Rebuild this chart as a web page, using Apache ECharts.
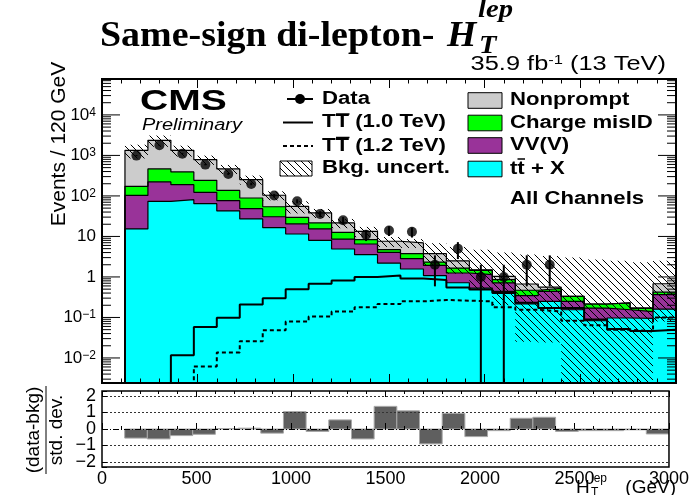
<!DOCTYPE html>
<html>
<head>
<meta charset="utf-8">
<script src="https://cdn.jsdelivr.net/npm/echarts@6/dist/echarts.min.js"></script>
<style>
  html, body { margin: 0; padding: 0; background: #fff; }
  #chart { width: 692px; height: 495px; }
</style>
</head>
<body>
<div id="chart"></div>
<script>
// ---- Binning: 24 bins of 120 GeV from 120 to 3000 GeV ----
const BIN_WIDTH = 120;
const BIN_LOW = [120, 240, 360, 480, 600, 720, 840, 960, 1080, 1200, 1320, 1440,
                 1560, 1680, 1800, 1920, 2040, 2160, 2280, 2400, 2520, 2640, 2760, 2880];

// ---- Background components (events per bin) ----
const ttX         = [15.3, 73.6, 81, 64.5, 42.6, 27, 16.5, 11.5, 8.0, 4.9, 3.55, 2.2,
                     1.57, 1.08, 0.72, 0.53, 0.44, 0.215, 0.25, 0.155, 0.083, 0.097, 0.095, 0.16];
const vvV         = [87.7, 148, 109, 58.5, 33.9, 21.5, 14.1, 8.9, 7.3, 3.7, 2.95, 1.85,
                     1.26, 0.85, 0.53, 0.61, 0.27, 0.13, 0.19, 0.095, 0.087, 0.058, 0.045, 0.205];
const chargeMisID = [70, 242, 202, 120, 60.5, 40.5, 23.4, 9.2, 6.2, 4.0, 1.8, 0.65,
                     0.93, 0.4, 0.41, 0.32, 0.15, 0.125, 0.08, 0.08, 0.045, 0.075, 0.03, 0.055];
const nonprompt   = [1163, 1896, 944, 544, 327, 164, 50, 25.4, 16.5, 8.9, 5.1, 2.9,
                     3.14, 1.43, 0.84, 0.04, 0.17, 0.2, 0.04, 0, 0, 0, 0, 0.26];

// ---- Total background uncertainty band (lower / upper edge) ----
const bkgUncUp   = [1836, 3090, 1740, 990, 582, 317, 130, 73.6, 47.7, 27, 17.2, 9.7,
                    8.6, 6.8, 5.5, 4.7, 4.0, 3.6, 3.3, 3.0, 2.7, 2.5, 2.3, 2.5];
const bkgUncDown = [842, 1630, 935, 584, 348, 190, 78, 37, 28.5, 16, 9.6, 5.5,
                    5.2, 1.9, 1.2, 0.5, 0.2, 0.025, 0.024, 0, 0, 0, 0, 0.08];

// ---- Observed events ----
const dataCounts = [989, 1778, 1107, 593, 349, 198, 102, 74, 36, 25, 11, 14,
                    13, 2, 5, 1, 1, 2, 2, 0, 0, 0, 0, 0];

// ---- Signal: vector-like T Tbar pair production ----
const tt1000 = [0, 0, 0.0116, 0.058, 0.099, 0.21, 0.30, 0.50, 0.68, 0.82, 1.0, 1.08,
                0.91, 0.84, 0.55, 0.49, 0.40, 0.23, 0.17, 0.17, 0.089, 0.052, 0.046, 0.05];
const tt1200 = [0, 0, 0, 0.0062, 0.0137, 0.0257, 0.048, 0.079, 0.105, 0.14, 0.178, 0.215,
                0.25, 0.27, 0.26, 0.25, 0.178, 0.155, 0.14, 0.083, 0.064, 0.05, 0.045, 0.1];

// ---- (data - bkg) / std. dev. per bin ----
const pull = [-0.55, -0.6, -0.4, -0.32, 0.03, 0.05, -0.25, 1.05, -0.15, 0.55, -0.6, 1.37,
              1.1, -0.9, 0.95, -0.46, -0.1, 0.65, 0.71, -0.15, -0.1, -0.1, -0.05, -0.3];

// ---- Axis ticks ----
const X_TICKS = [0, 500, 1000, 1500, 2000, 2500, 3000];
const Y_DECADES = [-2, -1, 0, 1, 2, 3, 4];
const PULL_TICKS = [-2, -1, 0, 1, 2];

// ---- Styling ----
const FLOOR = 1e-5;            // stand-in for empty bins on the log axis
const Y_MIN = 0.00241, Y_MAX = 77000;
const X_MIN = 0, X_MAX = 3000;
const SANS = '"Liberation Sans", Arial, sans-serif';
const SERIF = '"Liberation Serif", "Times New Roman", serif';
const COL = {
  nonprompt: '#cccccc',
  misid: '#00ff00',
  vv: '#993399',
  ttx: '#00ffff',
  pullFill: '#5f5f5f',
  pullLine: '#a8a8a8'
};

function makeHatch() {
  const s = 7;
  const c = document.createElement('canvas');
  c.width = s; c.height = s;
  const g = c.getContext('2d');
  g.strokeStyle = '#000';
  g.lineWidth = 1;
  g.beginPath();
  g.moveTo(-1, -1); g.lineTo(s + 1, s + 1);
  g.moveTo(-1, s - 1); g.lineTo(1, s + 1);
  g.moveTo(s - 1, -1); g.lineTo(s + 1, 1);
  g.stroke();
  return { image: c, repeat: 'repeat' };
}
const HATCH = makeHatch();

// cumulative stack levels (drawn from the top level down)
const cum = (arrs) => BIN_LOW.map((_, i) => arrs.reduce((s, a) => s + a[i], 0));
const levelTt = cum([ttX]);
const levelVV = cum([ttX, vvV]);
const levelMis = cum([ttX, vvV, chargeMisID]);
const levelTot = cum([ttX, vvV, chargeMisID, nonprompt]);

// histogram outline as step points (step: 'end')
function stepPoints(vals) {
  const last = BIN_LOW[BIN_LOW.length - 1] + BIN_WIDTH;
  const pts = [[BIN_LOW[0], FLOOR]];
  vals.forEach((v, i) => pts.push([BIN_LOW[i], v > 0 ? v : FLOOR]));
  const lv = vals[vals.length - 1];
  pts.push([last, lv > 0 ? lv : FLOOR]);
  pts.push([last, FLOOR]);
  return pts;
}

function stackSeries(name, vals, color, z) {
  return {
    name, type: 'line', xAxisIndex: 0, yAxisIndex: 0,
    data: stepPoints(vals), step: 'end', showSymbol: false, symbol: 'none',
    clip: true, silent: true, z,
    lineStyle: { color: '#000', width: 1.2 },
    areaStyle: { color, opacity: 1, origin: 'start' }
  };
}

function signalSeries(name, vals, dash) {
  return {
    name, type: 'line', xAxisIndex: 0, yAxisIndex: 0,
    data: stepPoints(vals), step: 'end', showSymbol: false, symbol: 'none',
    clip: true, silent: true, z: 4,
    lineStyle: { color: '#000', width: 2, type: dash ? [4, 3] : 'solid' }
  };
}

const supFmt = (e) => {
  if (e === 0) return '1';
  if (e === 1) return '10';
  return '10{sup|' + (e < 0 ? '\u2212' + (-e) : e) + '}';
};

const chart = echarts.init(document.getElementById('chart'), null, { renderer: 'canvas' });

const txt = (x, y, text, font, opts = {}) => ({
  type: 'text', x, y, scaleX: opts.scaleX || 1, rotation: opts.rotation || 0, z: 20,
  style: Object.assign({
    text, font, fill: '#000',
    textAlign: opts.align || 'left', textVerticalAlign: opts.valign || 'middle'
  }, opts.style || {})
});
const hline = (x1, y1, x2, y2, w, dash) => ({
  type: 'line', z: 20,
  shape: { x1, y1, x2, y2 },
  style: { stroke: '#000', lineWidth: w || 1, lineDash: dash || null }
});
const box = (x, y, w, h, fill) => ({
  type: 'rect', z: 20, shape: { x, y, width: w, height: h },
  style: { fill, stroke: '#000', lineWidth: 1 }
});

const legendFont = 'bold 18px ' + SANS;
const LS = 1.23;

const option = {
  animation: false,
  backgroundColor: '#fff',
  grid: [
    { left: 102, right: 16, top: 79, height: 304 },
    { left: 102, right: 16, top: 391, height: 76 }
  ],
  xAxis: [
    { gridIndex: 0, type: 'value', min: X_MIN, max: X_MAX, interval: 500, z: 10,
      axisLine: { show: false }, axisLabel: { show: false }, splitLine: { show: false },
      axisTick: { inside: true, length: 9, lineStyle: { color: '#000' } },
      minorTick: { show: true, splitNumber: 5, length: 4.5, lineStyle: { color: '#000' } } },
    { gridIndex: 0, type: 'value', position: 'top', min: X_MIN, max: X_MAX, interval: 500, z: 10,
      axisLine: { show: false }, axisLabel: { show: false }, splitLine: { show: false },
      axisTick: { inside: true, length: 9, lineStyle: { color: '#000' } },
      minorTick: { show: true, splitNumber: 5, length: 4.5, lineStyle: { color: '#000' } } },
    { gridIndex: 1, type: 'value', min: X_MIN, max: X_MAX, interval: 500, z: 10,
      axisLine: { show: false }, splitLine: { show: false },
      axisTick: { inside: true, length: 6, lineStyle: { color: '#000' } },
      minorTick: { show: true, splitNumber: 5, length: 3, lineStyle: { color: '#000' } },
      axisLabel: { margin: 3, fontSize: 18, fontFamily: SANS, color: '#000',
        formatter: (v) => X_TICKS.includes(v) ? String(v) : '' } },
    { gridIndex: 1, type: 'value', position: 'top', min: X_MIN, max: X_MAX, interval: 500, z: 10,
      axisLine: { show: false }, axisLabel: { show: false }, splitLine: { show: false },
      axisTick: { inside: true, length: 6, lineStyle: { color: '#000' } },
      minorTick: { show: true, splitNumber: 5, length: 3, lineStyle: { color: '#000' } } }
  ],
  yAxis: [
    { gridIndex: 0, type: 'log', logBase: 10, min: Y_MIN, max: Y_MAX, z: 10,
      axisLine: { show: false }, axisTick: { show: false }, splitLine: { show: false },
      axisLabel: {
        margin: 6, fontSize: 17, fontFamily: SANS, color: '#000',
        formatter: (v) => {
          const l = Math.log10(v), e = Math.round(l);
          if (Math.abs(l - e) > 1e-6 || !Y_DECADES.includes(e)) return '';
          return supFmt(e);
        },
        rich: { sup: { fontSize: 12, fontFamily: SANS, color: '#000', verticalAlign: 'top', padding: [0, 0, 4, 0] } }
      } },
    { gridIndex: 1, type: 'value', min: -2.3, max: 2.3, splitNumber: 4, z: 10,
      axisLine: { show: false }, splitLine: { show: false },
      axisTick: { inside: true, length: 5, lineStyle: { color: '#000' } },
      axisLabel: { margin: 6, fontSize: 18, fontFamily: SANS, color: '#000',
        formatter: (v) => PULL_TICKS.includes(v) ? (v < 0 ? '\u2212' + (-v) : String(v)) : '' } }
  ],
  series: [
    stackSeries('Nonprompt', levelTot, COL.nonprompt, 2),
    stackSeries('Charge misID', levelMis, COL.misid, 2),
    stackSeries('VV(V)', levelVV, COL.vv, 2),
    stackSeries('ttX', levelTt, COL.ttx, 2),
    {
      name: 'Bkg. uncert.', type: 'custom', xAxisIndex: 0, yAxisIndex: 0, clip: true, silent: true, z: 3,
      data: BIN_LOW.map((lo, i) => [lo, bkgUncDown[i] > 0 ? bkgUncDown[i] : FLOOR, bkgUncUp[i]]),
      encode: { x: 0, y: [1, 2] },
      renderItem(params, api) {
        const lo = api.value(0);
        const p0 = api.coord([lo, api.value(1)]);
        const p1 = api.coord([lo + BIN_WIDTH, api.value(2)]);
        return { type: 'rect', shape: { x: p0[0], y: p1[1], width: p1[0] - p0[0], height: p0[1] - p1[1] },
                 style: { fill: HATCH, stroke: null } };
      }
    },
    signalSeries('TT 1.0 TeV', tt1000, false),
    signalSeries('TT 1.2 TeV', tt1200, true),
    {
      name: 'Data errors', type: 'custom', xAxisIndex: 0, yAxisIndex: 0, clip: true, silent: true, z: 5,
      data: BIN_LOW.map((lo, i) => [lo + BIN_WIDTH / 2, dataCounts[i]]).filter(d => d[1] > 0),
      encode: { x: 0, y: 1 },
      renderItem(params, api) {
        const x = api.value(0), n = api.value(1), s = Math.sqrt(n);
        const a = api.coord([x, n - s > 0 ? n - s : FLOOR]);
        const b = api.coord([x, n + s]);
        return { type: 'line', shape: { x1: a[0], y1: a[1], x2: b[0], y2: b[1] },
                 style: { stroke: '#000', lineWidth: 2 } };
      }
    },
    {
      name: 'Data', type: 'scatter', xAxisIndex: 0, yAxisIndex: 0, z: 6, silent: true,
      symbol: 'circle', symbolSize: 10, itemStyle: { color: '#000' },
      data: BIN_LOW.map((lo, i) => [lo + BIN_WIDTH / 2, dataCounts[i]]).filter(d => d[1] > 0)
    },
    {
      name: 'Main frame', type: 'custom', xAxisIndex: 0, yAxisIndex: 0, clip: false, silent: true, z: 10,
      data: [[X_MIN, 1]], encode: { x: 0, y: 1 },
      renderItem(params, api) {
        const cs = params.coordSys;
        const kids = [{ type: 'rect', shape: { x: cs.x, y: cs.y, width: cs.width, height: cs.height },
                        style: { fill: 'none', stroke: '#000', lineWidth: 2 } }];
        for (let e = Y_DECADES[0] - 1; e <= Y_DECADES[Y_DECADES.length - 1]; e++) {
          for (let m = 1; m <= 9; m++) {
            const y = api.coord([X_MIN, m * Math.pow(10, e)])[1];
            if (y < cs.y || y > cs.y + cs.height) continue;
            const len = m === 1 ? 18 : 9;
            kids.push({ type: 'line', shape: { x1: cs.x, y1: y, x2: cs.x + len, y2: y }, style: { stroke: '#000', lineWidth: 1 } });
            kids.push({ type: 'line', shape: { x1: cs.x + cs.width - len, y1: y, x2: cs.x + cs.width, y2: y }, style: { stroke: '#000', lineWidth: 1 } });
          }
        }
        return { type: 'group', children: kids };
      }
    },
    {
      name: 'Pull', type: 'custom', xAxisIndex: 2, yAxisIndex: 1, clip: true, silent: true, z: 3,
      data: BIN_LOW.map((lo, i) => [lo, pull[i]]),
      encode: { x: 0, y: 1 },
      renderItem(params, api) {
        const lo = api.value(0), v = api.value(1);
        const a = api.coord([lo, 0]);
        const b = api.coord([lo + BIN_WIDTH, v]);
        return { type: 'rect',
                 shape: { x: a[0], y: Math.min(a[1], b[1]), width: b[0] - a[0], height: Math.abs(a[1] - b[1]) },
                 style: { fill: COL.pullFill, stroke: COL.pullLine, lineWidth: 1 } };
      },
      markLine: {
        silent: true, symbol: 'none', label: { show: false }, z: 4,
        data: [
          { yAxis: 2, lineStyle: { type: [2, 2], color: '#333', width: 1 } },
          { yAxis: 1, lineStyle: { type: [2, 2], color: '#333', width: 1 } },
          { yAxis: -1, lineStyle: { type: [2, 2], color: '#333', width: 1 } },
          { yAxis: -2, lineStyle: { type: [2, 2], color: '#333', width: 1 } },
          { yAxis: 0, lineStyle: { type: [6, 2, 1, 2], color: '#000', width: 1 } }
        ]
      }
    },
    {
      name: 'Pull frame', type: 'custom', xAxisIndex: 2, yAxisIndex: 1, clip: false, silent: true, z: 10,
      data: [[X_MIN, 0]], encode: { x: 0, y: 1 },
      renderItem(params) {
        const cs = params.coordSys;
        return { type: 'rect', shape: { x: cs.x, y: cs.y, width: cs.width, height: cs.height },
                 style: { fill: 'none', stroke: '#000', lineWidth: 1.5 } };
      }
    }
  ],
  graphic: [
    // title
    txt(100, 37, 'Same-sign di-lepton-', 'bold 36px ' + SERIF, { scaleX: 1.055 }),
    txt(447, 37, 'H', 'italic bold 36px ' + SERIF, { scaleX: 1.05 }),
    txt(478, 10, 'lep', 'italic bold 26px ' + SERIF, { scaleX: 1.1 }),
    txt(479, 46, 'T', 'italic bold 26px ' + SERIF, { scaleX: 1.1 }),
    // luminosity
    txt(666, 64, '35.9 fb{s|-1} (13 TeV)', '20px ' + SANS, { align: 'right', scaleX: 1.27,
      style: { rich: { s: { fontSize: 13, fontFamily: SANS, verticalAlign: 'top' } } } }),
    // CMS label
    txt(140, 102, 'CMS', 'bold 30px ' + SANS, { scaleX: 1.3 }),
    txt(142, 126, 'Preliminary', 'italic 16px ' + SANS, { scaleX: 1.25 }),
    // legend, left column
    hline(287, 99, 313, 99, 2),
    { type: 'circle', z: 21, shape: { cx: 300, cy: 99, r: 5 }, style: { fill: '#000' } },
    txt(322, 99, 'Data', legendFont, { scaleX: LS }),
    hline(283, 122.5, 313, 122.5, 2),
    txt(322, 122.5, 'TT (1.0 TeV)', legendFont, { scaleX: LS }),
    hline(336, 114, 349.5, 114, 1.5),
    hline(283, 146, 313, 146, 2, [4, 3]),
    txt(322, 146, 'TT (1.2 TeV)', legendFont, { scaleX: LS }),
    hline(336, 137.5, 349.5, 137.5, 1.5),
    box(280, 161, 32, 15, HATCH),
    txt(322, 168.5, 'Bkg. uncert.', legendFont, { scaleX: LS }),
    // legend, right column
    box(468, 92.7, 34, 15.6, COL.nonprompt),
    txt(510, 100.5, 'Nonprompt', legendFont, { scaleX: LS }),
    box(468, 115.2, 34, 15.6, COL.misid),
    txt(510, 123, 'Charge misID', legendFont, { scaleX: LS }),
    box(468, 137.7, 34, 15.6, COL.vv),
    txt(510, 145.5, 'VV(V)', legendFont, { scaleX: LS }),
    box(468, 161.2, 34, 15.6, COL.ttx),
    txt(510, 169, 'tt + X', legendFont, { scaleX: LS }),
    hline(517.5, 159, 525, 159, 1.5),
    txt(510, 199.5, 'All Channels', legendFont, { scaleX: LS }),
    // y-axis titles
    txt(59, 144, 'Events / 120 GeV', '21px ' + SANS, { align: 'center', rotation: Math.PI / 2 }),
    txt(34, 430, '(data-bkg)', '19px ' + SANS, { align: 'center', rotation: Math.PI / 2 }),
    hline(46, 386, 46, 474, 1),
    txt(57, 430, 'std. dev.', '19px ' + SANS, { align: 'center', rotation: Math.PI / 2 }),
    // x-axis title
    txt(576, 488, 'H', '19px ' + SANS),
    txt(591, 479, 'lep', '12px ' + SANS),
    txt(591, 493, 'T', '12px ' + SANS),
    txt(676, 488, '(GeV)', '19px ' + SANS, { align: 'right' })
  ]
};

chart.setOption(option);
</script>
</body>
</html>
